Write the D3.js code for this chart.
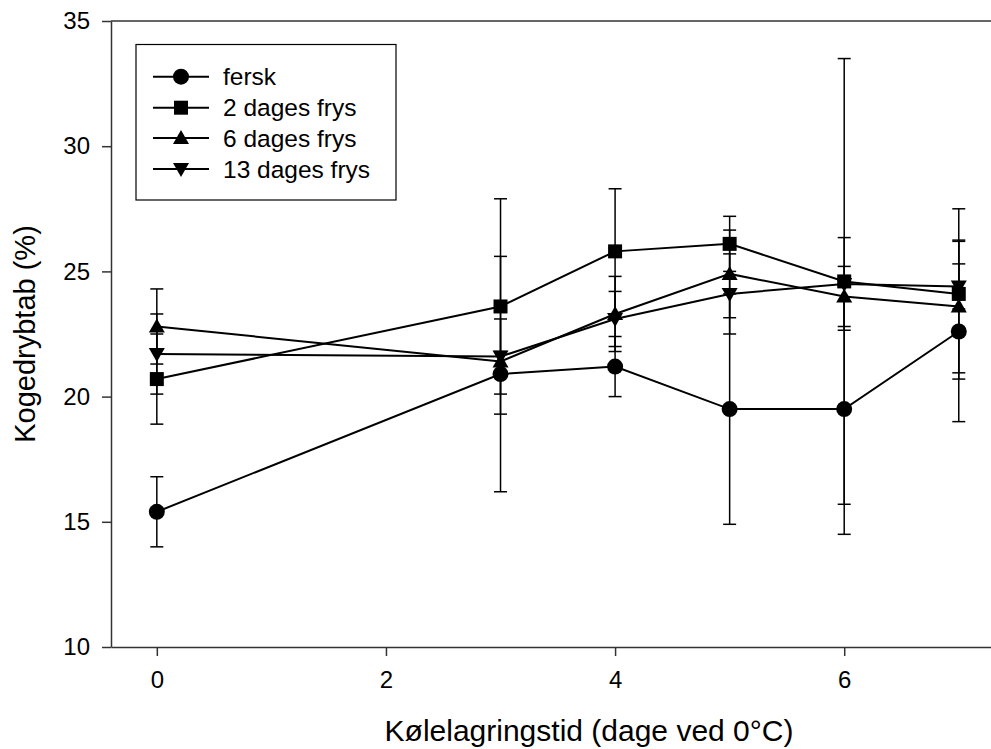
<!DOCTYPE html>
<html>
<head>
<meta charset="utf-8">
<script src="https://cdn.jsdelivr.net/npm/d3@7"></script>
<style>
  body { margin: 0; background: #fff; }
  svg { display: block; font-family: Arial, "Liberation Sans", sans-serif; }
  .axis path, .axis line { stroke: #333; stroke-width: 1.5px; }
  .axis text { font-size: 24px; fill: #000; }
</style>
</head>
<body>
<div id="chart"></div>
<script>
// Kølelagringstid (dage)
var days = [0, 3, 4, 5, 6, 7];

// mean values per series
var fersk  = [15.4, 20.9, 21.2, 19.5, 19.5, 22.6];
var frys2  = [20.7, 23.6, 25.8, 26.1, 24.6, 24.1];
var frys6  = [22.8, 21.4, 23.3, 24.9, 24.0, 23.6];
var frys13 = [21.7, 21.6, 23.1, 24.1, 24.5, 24.4];

// error bar half-widths
var ferskErr  = [1.4, 4.7, 1.2, 4.6, 5.0, 3.6];
var frys2Err  = [1.8, 4.3, 2.5, 1.1, 8.9, 3.4];
var frys6Err  = [1.5, 0.4, 1.5, 1.75, 1.2, 2.65];
var frys13Err = [1.6, 1.5, 1.1, 1.6, 1.85, 0.9];

var seriesNames = ["fersk", "2 dages frys", "6 dages frys", "13 dages frys"];
var markers = ["circle", "square", "triangleUp", "triangleDown"];

var xTicks = [0, 2, 4, 6];
var yTicks = [10, 15, 20, 25, 30, 35];

function init() {
    var w = 991;
    var h = 749;

    var xScale = d3.scaleLinear().domain([-0.4, 7.4]).range([111, 1004.6]);
    var yScale = d3.scaleLinear().domain([10, 35]).range([647, 21]);

    var svg = d3.select("#chart")
        .append("svg")
        .attr("width", w)
        .attr("height", h);

    // top frame line
    svg.append("line")
        .attr("x1", xScale.range()[0])
        .attr("x2", xScale.range()[1])
        .attr("y1", yScale(35))
        .attr("y2", yScale(35))
        .attr("stroke", "#333")
        .attr("stroke-width", 1.5);

    svg.append("g")
        .attr("class", "axis")
        .attr("transform", "translate(0," + yScale(10) + ")")
        .call(d3.axisBottom(xScale).tickValues(xTicks).tickSizeInner(9).tickSizeOuter(0).tickPadding(15));

    svg.append("g")
        .attr("class", "axis")
        .attr("transform", "translate(" + xScale(-0.4) + ",0)")
        .call(d3.axisLeft(yScale).tickValues(yTicks).tickSizeInner(9).tickSizeOuter(0).tickPadding(12));

    // axis titles
    svg.append("text")
        .attr("x", 589)
        .attr("y", 741)
        .attr("text-anchor", "middle")
        .style("font-size", "30px")
        .text("Kølelagringstid (dage ved 0°C)");

    svg.append("text")
        .attr("transform", "translate(35,334) rotate(-90)")
        .attr("text-anchor", "middle")
        .style("font-size", "29px")
        .text("Kogedrybtab (%)");

    var allSeries = [
        { name: seriesNames[0], values: fersk, err: ferskErr, marker: markers[0] },
        { name: seriesNames[1], values: frys2, err: frys2Err, marker: markers[1] },
        { name: seriesNames[2], values: frys6, err: frys6Err, marker: markers[2] },
        { name: seriesNames[3], values: frys13, err: frys13Err, marker: markers[3] }
    ];

    function markerPath(type) {
        if (type === "square") return "M-7,-7H7V7H-7Z";
        if (type === "triangleUp") return "M0,-8L8,6L-8,6Z";
        if (type === "triangleDown") return "M0,8L8,-6L-8,-6Z";
        return d3.symbol().type(d3.symbolCircle).size(Math.PI * 64)();
    }

    var line = d3.line()
        .x(function(d) { return xScale(d.x); })
        .y(function(d) { return yScale(d.y); });

    allSeries.forEach(function(s) {
        var pts = days.map(function(d, i) { return { x: d, y: s.values[i], e: s.err[i] }; });
        var g = svg.append("g");

        // error bars
        var eb = g.selectAll(".eb").data(pts).enter().append("g");
        eb.append("line")
            .attr("x1", function(d) { return xScale(d.x); })
            .attr("x2", function(d) { return xScale(d.x); })
            .attr("y1", function(d) { return yScale(d.y - d.e); })
            .attr("y2", function(d) { return yScale(d.y + d.e); })
            .attr("stroke", "#000").attr("stroke-width", 1.5);
        [-1, 1].forEach(function(sign) {
            eb.append("line")
                .attr("x1", function(d) { return xScale(d.x) - 6.5; })
                .attr("x2", function(d) { return xScale(d.x) + 6.5; })
                .attr("y1", function(d) { return yScale(d.y + sign * d.e); })
                .attr("y2", function(d) { return yScale(d.y + sign * d.e); })
                .attr("stroke", "#000").attr("stroke-width", 1.5);
        });

        g.append("path")
            .datum(pts)
            .attr("d", line)
            .attr("fill", "none")
            .attr("stroke", "#000")
            .attr("stroke-width", 2);

        g.selectAll(".pt").data(pts).enter().append("path")
            .attr("transform", function(d) { return "translate(" + xScale(d.x) + "," + yScale(d.y) + ")"; })
            .attr("d", markerPath(s.marker))
            .attr("fill", "#000");
    });

    // legend
    var legend = svg.append("g");
    legend.append("rect")
        .attr("x", 136).attr("y", 44.5)
        .attr("width", 260).attr("height", 155.5)
        .attr("fill", "#fff").attr("stroke", "#000").attr("stroke-width", 1.2);

    var rowY = [76.7, 107.7, 138, 169];
    allSeries.forEach(function(s, i) {
        var row = legend.append("g").attr("transform", "translate(0," + rowY[i] + ")");
        row.append("line")
            .attr("x1", 153).attr("x2", 209)
            .attr("stroke", "#000").attr("stroke-width", 2);
        row.append("path")
            .attr("transform", "translate(181,0)")
            .attr("d", markerPath(s.marker))
            .attr("fill", "#000");
        row.append("text")
            .attr("x", 223)
            .attr("dy", "0.35em")
            .style("font-size", "24.5px")
            .text(s.name);
    });
}
window.onload = init;
</script>
</body>
</html>
